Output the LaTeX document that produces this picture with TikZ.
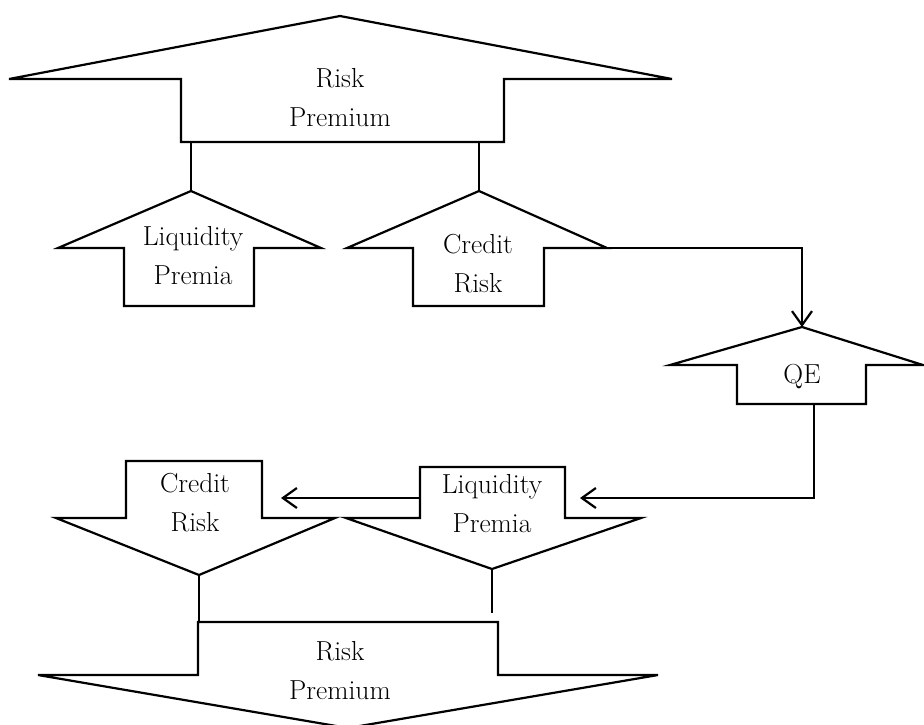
\documentclass[tikz,border=0pt]{standalone}
\usetikzlibrary{arrows.meta}
\begin{document}
\begin{tikzpicture}[x=1pt,y=-1pt,line width=2.2pt,>={Straight Barb[length=14pt,width=20pt]}]
            %
            % `block' is used for the arrow shaped boxes.
            % `txt' is used for the text inside them.
            \tikzstyle{block} = [draw,fill=white,line width=2.2pt]
            \tikzstyle{txt} = [font=\fontsize{27.5}{39}\selectfont,align=center,inner sep=0pt]
            \useasboundingbox (0,0) rectangle (924,724);
            %
            % Risk Premium (top)
            \draw[block] (340,16) -- (672,79) -- (504,79) -- (504,142) -- (181,142) -- (181,79) -- (9,79) -- cycle;
            \node[txt] (rp1) at (340,98) {Risk\\Premium};
            \coordinate (rp1-l) at (191,142);
            \coordinate (rp1-r) at (479,142);
            %
            % Liquidity Premia (up)
            \coordinate (lp1-tip) at (191,191);
            \draw[block] (lp1-tip) -- (321,248) -- (254,248) -- (254,306) -- (124,306) -- (124,248) -- (58,248) -- cycle;
            \node[txt] (lp1) at (193,256) {Liquidity\\Premia};
            %
            % Credit Risk (up)
            \coordinate (cr1-tip) at (479,191);
            \coordinate (cr1-e) at (607,248);
            \draw[block] (cr1-tip) -- (cr1-e) -- (544,248) -- (544,306) -- (413,306) -- (413,248) -- (347,248) -- cycle;
            \node[txt] (cr1) at (478,264) {Credit\\Risk};
            %
            % QE
            \coordinate (qe-tip) at (802,327);
            \coordinate (qe-s) at (814,404);
            \draw[block] (qe-tip) -- (923,365) -- (866,365) -- (866,404) -- (737,404) -- (737,365) -- (670,365) -- cycle;
            \node[txt] (qe) at (802,377) {QE};
            %
            % Liquidity Premia (down)
            \coordinate (lp2-tip) at (492,569);
            \coordinate (lp2-w) at (420,498);
            \coordinate (lp2-in) at (580,498);
            \draw[block] (420,467) -- (565,467) -- (565,518) -- (641,518) -- (lp2-tip) -- (346,518) -- (420,518) -- cycle;
            \node[txt] (lp2) at (492,504) {Liquidity\\Premia};
            %
            % Credit Risk (down)
            \coordinate (cr2-tip) at (199,575);
            \coordinate (cr2-in) at (281,498);
            \draw[block] (126,461) -- (262,461) -- (262,518) -- (335,518) -- (cr2-tip) -- (56,518) -- (126,518) -- cycle;
            \node[txt] (cr2) at (195,503) {Credit\\Risk};
            %
            % Risk Premium (bottom)
            \coordinate (rp2-l) at (199,622);
            \coordinate (rp2-r) at (492,613);
            \draw[block] (198,622) -- (498,622) -- (498,675) -- (658,675) -- (348,728) -- (38,675) -- (198,675) -- cycle;
            \node[txt] (rp2) at (340,671) {Risk\\Premium};
            %
            % Links
            \draw (rp1-l) -- (lp1-tip);
            \draw (rp1-r) -- (cr1-tip);
            \draw[->] (cr1-e) -| (qe-tip);
            \draw[->] (qe-s) |- (lp2-in);
            \draw[->] (lp2-w) -- (cr2-in);
            \draw (cr2-tip) -- (rp2-l);
            \draw (lp2-tip) -- (rp2-r);
        \end{tikzpicture}
\end{document}
